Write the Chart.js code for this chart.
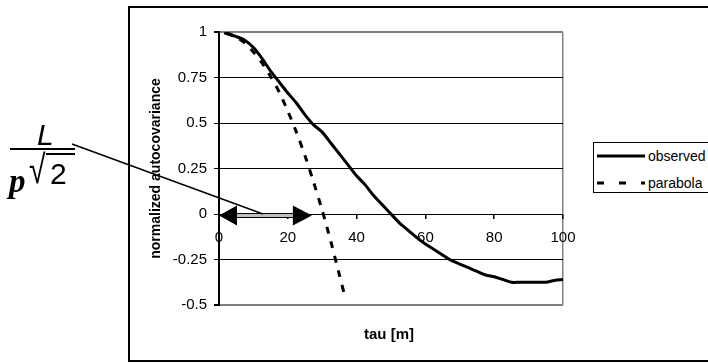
<!DOCTYPE html>
<html>
<head>
<meta charset="utf-8">
<script src="https://cdn.jsdelivr.net/npm/chart.js@4/dist/chart.umd.min.js"></script>
<style>
  html, body { margin: 0; padding: 0; background: #fff; }
  #wrap { position: relative; width: 708px; height: 363px; overflow: hidden; }
  #c { position: absolute; left: 0; top: 0; }
  .txt { position: absolute; font-family: "Liberation Sans", Arial, sans-serif; color: #000; white-space: nowrap; line-height: 1; }
  #legend { position: absolute; left: 593px; top: 142px; width: 140px; height: 49px; border: 1.5px solid #000; background: #fff; }
  .lrow { position: absolute; left: 3px; height: 16px; font-family: "Liberation Sans", Arial, sans-serif; font-size: 14px; line-height: 16px; }
  .lrow svg { position: absolute; left: 0; top: 0; }
  .lrow span { position: absolute; left: 51px; top: 0; }
</style>
</head>
<body>
<div id="wrap">
  <canvas id="c" width="708" height="363"></canvas>
  <div class="txt" style="left:37px; top:120px; font-size:30px; font-style:italic;">L</div>
  <div style="position:absolute; left:10px; top:148px; width:65px; height:2px; background:#000;"></div>
  <div class="txt" style="left:9px; top:165px; font-family:'Liberation Serif',serif; font-size:33px; font-weight:bold; font-style:italic;">p</div>
  <div class="txt" style="left:29px; top:149px; font-size:40px; transform: scaleX(0.75); transform-origin: left top;">&#8730;</div>
  <div style="position:absolute; left:46px; top:153px; width:29px; height:1.5px; background:#000;"></div>
  <div class="txt" style="left:50px; top:159px; font-size:30px;">2</div>
  <div class="txt" style="left:364px; top:326px; font-size:15px; font-weight:bold;">tau [m]</div>
  <div id="legend">
    <div class="lrow" style="top:5px;">
      <svg width="50" height="16"><line x1="0" y1="8" x2="48" y2="8" stroke="#000" stroke-width="3"/></svg>
      <span>observed</span>
    </div>
    <div class="lrow" style="top:32px;">
      <svg width="50" height="16"><line x1="0" y1="8" x2="48" y2="8" stroke="#000" stroke-width="3" stroke-dasharray="7 15"/></svg>
      <span>parabola</span>
    </div>
  </div>
</div>
<script>
// ---- data ----
const obsTau = [1.5, 5, 7.5, 10, 12.5, 15, 17.5, 20, 22.5, 25, 27.5, 30, 32.5, 35, 37.5, 40, 42.5, 45, 47.5, 50,
                52.5, 55, 57.5, 60, 62.5, 65, 67.5, 70, 72.5, 75, 77.5, 80, 82.5, 85, 87.5, 90, 92.5, 95, 97.5, 100];
const obsVal = [0.995, 0.975, 0.955, 0.915, 0.855, 0.785, 0.725, 0.665, 0.61, 0.545, 0.49, 0.45, 0.39, 0.33, 0.27, 0.21, 0.16, 0.10, 0.05, 0.0,
                -0.05, -0.09, -0.13, -0.165, -0.195, -0.225, -0.255, -0.275, -0.295, -0.315, -0.335, -0.345, -0.36, -0.375, -0.375, -0.375, -0.375, -0.375, -0.365, -0.36];
const parTau = [2, 5, 7.5, 10, 12.5, 15, 17.5, 20, 22.5, 25, 27.5, 30, 32.5, 35, 36.7];
const parVal = [0.996, 0.973, 0.94, 0.89, 0.83, 0.755, 0.67, 0.565, 0.45, 0.32, 0.175, 0.02, -0.15, -0.335, -0.46];
const xTicks = [0, 20, 40, 60, 80, 100];
const yTicks = [-0.5, -0.25, 0, 0.25, 0.5, 0.75, 1];
const yTickLabels = ['-0.5', '-0.25', '0', '0.25', '0.5', '0.75', '1'];
const arrowRange = [0, 27];      // L / (p*sqrt(2)) marked on the tau axis
const connectorEnd = 12.8;       // tau where the pointer line meets the arrow

const toXY = (xs, ys) => xs.map((x, i) => ({ x: x, y: ys[i] }));

const annotate = {
  id: 'annotate',
  beforeDraw(chart) {
    const ctx = chart.ctx;
    ctx.save();
    ctx.fillStyle = '#fff';
    ctx.fillRect(0, 0, chart.width, chart.height);
    ctx.strokeStyle = '#000';
    ctx.lineWidth = 2;
    ctx.strokeRect(129, 7, 700, 354);
    ctx.restore();
  },
  afterDatasetsDraw(chart) {
    const ctx = chart.ctx;
    const xs = chart.scales.x, ys = chart.scales.y;
    const x0 = xs.getPixelForValue(arrowRange[0]);
    const x1 = xs.getPixelForValue(arrowRange[1]);
    const y0 = ys.getPixelForValue(0) + 1.5;
    ctx.save();
    ctx.fillStyle = '#c0c0c0';
    ctx.fillRect(x0 + 10, y0 - 2, x1 - x0 - 20, 4);
    ctx.strokeStyle = '#000';
    ctx.lineWidth = 1;
    ctx.strokeRect(x0 + 10, y0 - 2, x1 - x0 - 20, 4);
    ctx.fillStyle = '#000';
    ctx.beginPath();
    ctx.moveTo(x0, y0); ctx.lineTo(x0 + 18, y0 - 10); ctx.lineTo(x0 + 18, y0 + 10); ctx.closePath(); ctx.fill();
    ctx.beginPath();
    ctx.moveTo(x1, y0); ctx.lineTo(x1 - 19, y0 - 10); ctx.lineTo(x1 - 19, y0 + 10); ctx.closePath(); ctx.fill();
    ctx.lineWidth = 1.5;
    ctx.beginPath();
    ctx.moveTo(72, 144);
    ctx.lineTo(xs.getPixelForValue(connectorEnd), ys.getPixelForValue(0));
    ctx.stroke();
    ctx.restore();
  }
};

new Chart(document.getElementById('c'), {
  type: 'line',
  data: {
    datasets: [
      { label: 'observed', data: toXY(obsTau, obsVal), borderColor: '#000', borderWidth: 3,
        pointRadius: 0, tension: 0.3, fill: false },
      { label: 'parabola', data: toXY(parTau, parVal), borderColor: '#000', borderWidth: 3,
        borderDash: [7, 8], pointRadius: 0, tension: 0.3, fill: false }
    ]
  },
  options: {
    responsive: false,
    animation: false,
    events: [],
    layout: { padding: { left: 146, top: 32, right: 145, bottom: 58 } },
    plugins: { legend: { display: false }, tooltip: { enabled: false } },
    scales: {
      x: {
        type: 'linear',
        position: { y: 0 },
        min: 0, max: 100,
        afterBuildTicks: s => { s.ticks = xTicks.map(v => ({ value: v })); },
        ticks: { color: '#000', font: { family: 'Liberation Sans', size: 15 }, padding: 11, maxRotation: 0 },
        grid: {
          drawOnChartArea: true,
          color: c => (c.tick && c.tick.value === 100) ? '#808080' : 'rgba(0,0,0,0)',
          lineWidth: 1.5,
          tickColor: '#000', tickLength: 4
        },
        border: { color: '#000', width: 1 }
      },
      y: {
        type: 'linear',
        min: -0.5, max: 1,
        afterBuildTicks: s => { s.ticks = yTicks.map(v => ({ value: v })); },
        afterFit: s => { s.width = 73; },
        ticks: { color: '#000', font: { family: 'Liberation Sans', size: 15 }, padding: 7,
                 callback: (v) => yTickLabels[yTicks.indexOf(v)] },
        grid: {
          color: c => (c.tick && (c.tick.value === 1 || c.tick.value === -0.5)) ? '#808080' : '#000',
          lineWidth: c => (c.tick && (c.tick.value === 1 || c.tick.value === -0.5)) ? 2 : 1,
          tickColor: '#000', tickLength: 5
        },
        border: { color: '#000', width: 2 },
        title: { display: true, text: 'normalized autocovariance', color: '#000',
                 font: { family: 'Liberation Sans', size: 14, weight: 'bold' }, padding: { top: 2, bottom: 0 } }
      }
    }
  },
  plugins: [annotate]
});
</script>
</body>
</html>
